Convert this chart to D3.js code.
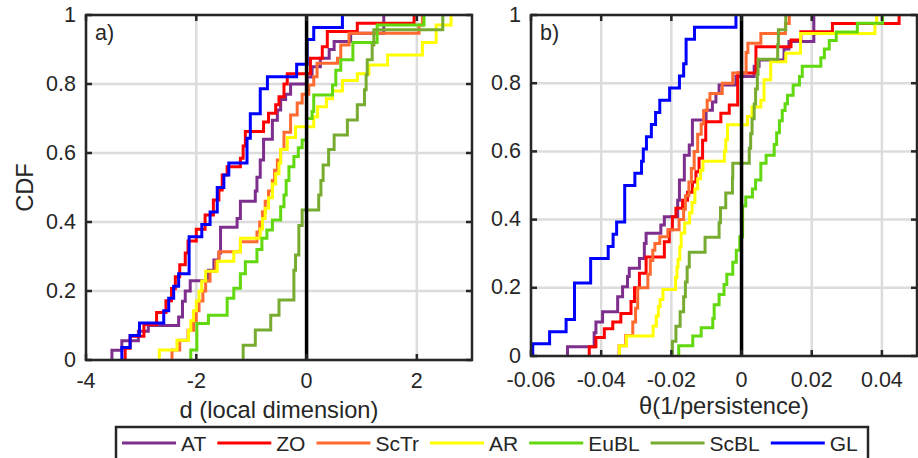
<!DOCTYPE html>
<html>
<head>
<meta charset="utf-8">
<script src="https://cdn.jsdelivr.net/npm/d3@7"></script>
<style>
body { margin: 0; background: #fff; }
text { font-family: "Liberation Sans", Arial, sans-serif; fill: #262626; }
</style>
</head>
<body>
<svg id="chart" width="918" height="458"></svg>
<script>
// series names and colours (legend order = draw order)
var seriesNames = ["AT", "ZO", "ScTr", "AR", "EuBL", "ScBL", "GL"];
var seriesColors = ["#7E2F8E", "#FF0000", "#FF6A30", "#FFFF00", "#62D80F", "#77AC30", "#0000FF"];

// panel a) : jumps of the empirical CDF of d, [value, CDF after the jump]
var dAT = [[-3.53,0.028],[-3.35,0.056],[-3.05,0.083],[-2.87,0.10],[-2.32,0.125],[-2.25,0.17],
    [-2.2,0.2],[-2.11,0.23],[-1.78,0.26],[-1.68,0.29],[-1.59,0.31],[-1.56,0.385],[-1.26,0.41],
    [-1.2,0.46],[-0.93,0.49],[-0.9,0.53],[-0.84,0.58],[-0.78,0.64],[-0.62,0.695],[-0.53,0.725],
    [-0.47,0.755],[-0.38,0.77],[-0.29,0.80],[0.01,0.82],[0.1,0.85],[0.25,0.875],[0.41,0.9],
    [0.5,0.923],[0.8,0.947],[1.4,1]];
var dZO = [[-3.29,0.034],[-3.2,0.069],[-2.95,0.103],[-2.72,0.138],[-2.55,0.172],[-2.45,0.207],
    [-2.38,0.241],[-2.3,0.276],[-2.2,0.31],[-2.15,0.345],[-2.0,0.379],[-1.84,0.42],[-1.69,0.464],
    [-1.59,0.493],[-1.53,0.536],[-1.44,0.56],[-1.2,0.585],[-1.15,0.62],[-1.11,0.662],[-0.78,0.69],
    [-0.69,0.715],[-0.56,0.74],[-0.5,0.763],[-0.41,0.8],[-0.35,0.83],[0.07,0.875],[0.285,0.908],
    [0.376,0.952],[0.92,0.976],[1.95,1]];
var dScTr = [[-2.44,0.029],[-2.3,0.057],[-2.15,0.086],[-2.05,0.114],[-2.0,0.143],[-1.95,0.171],
    [-1.88,0.2],[-1.83,0.229],[-1.75,0.257],[-1.65,0.286],[-1.59,0.314],[-1.2,0.343],[-0.9,0.371],
    [-0.85,0.4],[-0.8,0.43],[-0.75,0.46],[-0.69,0.49],[-0.62,0.52],[-0.58,0.55],[-0.53,0.58],
    [-0.47,0.61],[-0.41,0.66],[-0.29,0.71],[-0.17,0.745],[-0.08,0.77],[0.04,0.797],[0.13,0.821],
    [0.19,0.86],[0.56,0.875],[0.62,0.913],[0.77,0.947],[2.04,0.971],[2.1,1]];
var dAR = [[-2.67,0.029],[-2.35,0.057],[-2.14,0.086],[-2.1,0.114],[-2.05,0.143],[-2.0,0.171],
    [-1.95,0.2],[-1.9,0.229],[-1.83,0.257],[-1.62,0.286],[-1.32,0.314],[-1.2,0.353],[-0.84,0.38],
    [-0.8,0.41],[-0.75,0.44],[-0.69,0.47],[-0.62,0.51],[-0.56,0.54],[-0.5,0.57],[-0.47,0.61],
    [-0.35,0.645],[-0.2,0.676],[0.13,0.705],[0.2,0.734],[0.36,0.757],[0.47,0.78],[0.65,0.81],
    [0.92,0.83],[1.13,0.855],[1.47,0.884],[2.1,0.92],[2.35,0.971],[2.62,1]];
var dEuBL = [[-2.1,0.029],[-1.99,0.106],[-1.78,0.13],[-1.44,0.179],[-1.32,0.208],[-1.2,0.25],
    [-1.11,0.285],[-0.9,0.32],[-0.81,0.353],[-0.72,0.377],[-0.62,0.406],[-0.47,0.444],[-0.41,0.478],
    [-0.37,0.52],[-0.32,0.56],[-0.23,0.59],[-0.15,0.615],[-0.08,0.638],[0.0,0.70],[0.1,0.72],
    [0.13,0.768],[0.47,0.797],[0.53,0.84],[0.62,0.87],[0.84,0.92],[1.28,0.971],[2.13,1]];
var dScBL = [[-1.15,0.043],[-0.93,0.087],[-0.65,0.13],[-0.5,0.174],[-0.23,0.26],[-0.2,0.304],
    [-0.14,0.39],[-0.08,0.435],[0.22,0.478],[0.26,0.52],[0.3,0.565],[0.4,0.61],[0.5,0.652],
    [0.74,0.696],[0.92,0.74],[1.05,0.783],[1.08,0.826],[1.1,0.87],[1.19,0.913],[1.22,0.957],[2.47,1]];
var dGL = [[-3.35,0.036],[-3.2,0.071],[-3.03,0.107],[-2.59,0.143],[-2.5,0.179],[-2.41,0.214],
    [-2.32,0.25],[-2.13,0.357],[-1.9,0.393],[-1.75,0.429],[-1.62,0.5],[-1.5,0.536],[-1.41,0.571],
    [-1.08,0.643],[-1.02,0.714],[-0.84,0.786],[-0.71,0.821],[-0.18,0.857],[0.01,0.929],
    [0.13,0.964],[0.65,1]];

// panel b) : jumps of the empirical CDF of theta
var tAT = [[-0.0496,0.027],[-0.042,0.068],[-0.0415,0.1],[-0.0396,0.13],[-0.0353,0.174],
    [-0.0339,0.203],[-0.0325,0.233],[-0.032,0.257],[-0.0291,0.286],[-0.0277,0.33],[-0.0272,0.36],
    [-0.023,0.384],[-0.022,0.408],[-0.0182,0.457],[-0.0177,0.516],[-0.0163,0.589],[-0.0149,0.619],
    [-0.014,0.692],[-0.0101,0.721],[-0.0083,0.745],[-0.0073,0.77],[-0.0064,0.795],[-0.0016,0.82],
    [0.0036,0.85],[0.005,0.868],[0.0121,0.9],[0.0135,0.922],[0.0206,1]];
var tZO = [[-0.0434,0.027],[-0.0415,0.054],[-0.0391,0.08],[-0.0367,0.1],[-0.0344,0.125],
    [-0.0315,0.16],[-0.0305,0.2],[-0.0291,0.243],[-0.0272,0.29],[-0.022,0.335],[-0.0206,0.37],
    [-0.0197,0.408],[-0.0187,0.433],[-0.0168,0.457],[-0.0154,0.48],[-0.014,0.51],[-0.013,0.54],
    [-0.0121,0.58],[-0.0111,0.633],[-0.0102,0.687],[-0.0059,0.712],[-0.0035,0.736],[-0.0011,0.83],
    [0.0041,0.907],[0.0141,0.927],[0.0169,0.951],[0.0259,0.975],[0.0449,1]];
var tScTr = [[-0.0349,0.03],[-0.033,0.06],[-0.031,0.1],[-0.0302,0.14],[-0.0296,0.2],
    [-0.0267,0.24],[-0.026,0.28],[-0.0253,0.31],[-0.0247,0.33],[-0.0233,0.35],[-0.021,0.37],
    [-0.0178,0.4],[-0.0165,0.43],[-0.016,0.47],[-0.015,0.51],[-0.0143,0.55],[-0.0135,0.6],
    [-0.0125,0.65],[-0.0115,0.68],[-0.0108,0.72],[-0.0098,0.75],[-0.009,0.77],[-0.0055,0.8],
    [-0.0025,0.83],[0.0013,0.89],[0.0018,0.917],[0.0055,0.946],[0.0125,0.975],[0.0136,1]];
var tAR = [[-0.0348,0.03],[-0.0328,0.059],[-0.0252,0.088],[-0.0243,0.117],[-0.0237,0.145],
    [-0.0232,0.166],[-0.0224,0.195],[-0.0188,0.23],[-0.0184,0.26],[-0.0181,0.283],[-0.0176,0.32],
    [-0.0172,0.361],[-0.0162,0.39],[-0.0148,0.42],[-0.0141,0.45],[-0.0133,0.49],[-0.0125,0.52],
    [-0.0117,0.545],[-0.011,0.571],[-0.0049,0.6],[-0.0045,0.634],[-0.004,0.678],[0.0017,0.702],
    [0.003,0.73],[0.0055,0.75],[0.0064,0.81],[0.0083,0.863],[0.0126,0.888],[0.0168,0.946],
    [0.038,0.976],[0.0385,1]];
var tEuBL = [[-0.0179,0.03],[-0.0139,0.059],[-0.0115,0.083],[-0.0082,0.11],[-0.0078,0.15],
    [-0.0064,0.18],[-0.005,0.21],[-0.0042,0.24],[-0.0025,0.275],[-0.0015,0.31],[-0.0005,0.35],
    [0.0003,0.44],[0.0012,0.466],[0.0031,0.49],[0.004,0.516],[0.0055,0.565],[0.007,0.589],
    [0.0093,0.62],[0.01,0.655],[0.0108,0.69],[0.0116,0.72],[0.0124,0.74],[0.0131,0.765],
    [0.0147,0.795],[0.0165,0.82],[0.0173,0.85],[0.0226,0.875],[0.0236,0.9],[0.025,0.925],
    [0.027,0.95],[0.033,0.976],[0.0402,1]];
var tScBL = [[-0.0197,0.043],[-0.0187,0.087],[-0.0175,0.13],[-0.0165,0.174],[-0.016,0.217],
    [-0.0155,0.261],[-0.0149,0.304],[-0.0104,0.348],[-0.0064,0.391],[-0.006,0.435],[-0.0045,0.478],
    [-0.0026,0.522],[-0.0025,0.565],[0.0022,0.609],[0.0026,0.652],[0.003,0.696],[0.0036,0.739],
    [0.004,0.783],[0.0045,0.826],[0.0047,0.87],[0.0103,0.913],[0.0105,0.957],[0.0126,1]];
var tGL = [[-0.0595,0.036],[-0.0547,0.071],[-0.05,0.107],[-0.0476,0.214],[-0.043,0.286],
    [-0.038,0.321],[-0.0366,0.357],[-0.0356,0.393],[-0.0333,0.5],[-0.0304,0.536],[-0.0285,0.571],
    [-0.028,0.607],[-0.0271,0.643],[-0.0257,0.679],[-0.0245,0.714],[-0.0233,0.75],[-0.0205,0.786],
    [-0.0177,0.821],[-0.0165,0.857],[-0.0158,0.929],[-0.0134,0.964],[-0.0016,1]];

// tick values
var yTicks = [0, 0.2, 0.4, 0.6, 0.8, 1];
var dTicks = [-4, -2, 0, 2];
var tTicks = [-0.06, -0.04, -0.02, 0, 0.02, 0.04];

var panels = [
    {tag: "a)", left: 86, right: 472, top: 15, bottom: 360, domain: [-4, 3], ticks: dTicks,
     tickY: 388, label: "d (local dimension)", labelY: 418,
     series: [dAT, dZO, dScTr, dAR, dEuBL, dScBL, dGL]},
    {tag: "b)", left: 531, right: 917, top: 15, bottom: 356, domain: [-0.06, 0.05], ticks: tTicks,
     tickY: 386.5, label: "\u03b8(1/persistence)", labelY: 413.5,
     series: [tAT, tZO, tScTr, tAR, tEuBL, tScBL, tGL]}
];

var axisColor = "#262626";
var svg = d3.select("#chart");
svg.append("rect").attr("width", 918).attr("height", 458).attr("fill", "#fff");

panels.forEach(function(p, pi) {
    var x = d3.scaleLinear().domain(p.domain).range([p.left, p.right]);
    var y = d3.scaleLinear().domain([0, 1]).range([p.bottom, p.top]);
    var g = svg.append("g");

    g.append("clipPath").attr("id", "clip" + pi)
        .append("rect")
        .attr("x", p.left).attr("y", p.top - 2)
        .attr("width", p.right - p.left).attr("height", p.bottom - p.top + 4);

    // grid
    g.selectAll(".gx").data(p.ticks).enter().append("line")
        .attr("x1", function(d) { return x(d); }).attr("x2", function(d) { return x(d); })
        .attr("y1", p.top).attr("y2", p.bottom)
        .attr("stroke", "#dcdcdc").attr("stroke-width", 2.5);
    g.selectAll(".gy").data(yTicks).enter().append("line")
        .attr("x1", p.left).attr("x2", p.right)
        .attr("y1", function(d) { return y(d); }).attr("y2", function(d) { return y(d); })
        .attr("stroke", "#dcdcdc").attr("stroke-width", 2.5);

    // cdf stairs
    var line = d3.line()
        .x(function(d) { return x(d[0]); })
        .y(function(d) { return y(d[1]); })
        .curve(d3.curveStepAfter);
    var plot = g.append("g").attr("clip-path", "url(#clip" + pi + ")");
    p.series.forEach(function(s, i) {
        var pts = [[s[0][0], 0]].concat(s);
        plot.append("path")
            .attr("d", line(pts))
            .attr("fill", "none")
            .attr("stroke", seriesColors[i])
            .attr("stroke-width", 3);
    });

    // zero line
    g.append("line")
        .attr("x1", x(0)).attr("x2", x(0))
        .attr("y1", y(0)).attr("y2", y(1))
        .attr("stroke", "#000").attr("stroke-width", 3.5);

    // box
    g.append("rect")
        .attr("x", p.left).attr("y", p.top)
        .attr("width", p.right - p.left).attr("height", p.bottom - p.top)
        .attr("fill", "none").attr("stroke", axisColor).attr("stroke-width", 2.5);

    // inward ticks
    p.ticks.forEach(function(t) {
        [[p.bottom, p.bottom - 6], [p.top, p.top + 6]].forEach(function(e) {
            g.append("line").attr("x1", x(t)).attr("x2", x(t))
                .attr("y1", e[0]).attr("y2", e[1])
                .attr("stroke", axisColor).attr("stroke-width", 2.5);
        });
    });
    yTicks.forEach(function(t) {
        [[p.left, p.left + 6], [p.right, p.right - 6]].forEach(function(e) {
            g.append("line").attr("x1", e[0]).attr("x2", e[1])
                .attr("y1", y(t)).attr("y2", y(t))
                .attr("stroke", axisColor).attr("stroke-width", 2.5);
        });
    });

    // tick labels
    g.selectAll(".xl").data(p.ticks).enter().append("text")
        .attr("x", function(d) { return x(d); })
        .attr("y", p.tickY)
        .attr("text-anchor", "middle")
        .style("font-size", "21.5px")
        .text(function(d) { return String(d); });
    g.selectAll(".yl").data(yTicks).enter().append("text")
        .attr("x", p.left - 10)
        .attr("y", function(d) { return y(d) + 6.5; })
        .attr("text-anchor", "end")
        .style("font-size", "21.5px")
        .text(function(d) { return String(d); });

    // axis label
    g.append("text")
        .attr("x", (p.left + p.right) / 2).attr("y", p.labelY)
        .attr("text-anchor", "middle")
        .style("font-size", "23.7px")
        .text(p.label);

    // panel tag
    g.append("text")
        .attr("x", p.left + 9).attr("y", p.top + 25)
        .style("font-size", "21.5px")
        .text(p.tag);
});

// y label
svg.append("text")
    .attr("transform", "translate(33," + ((15 + 360) / 2) + ") rotate(-90)")
    .attr("text-anchor", "middle")
    .style("font-size", "23.7px")
    .text("CDF");

// legend
var legend = svg.append("g");
legend.append("rect")
    .attr("x", 116).attr("y", 427).attr("width", 752).attr("height", 40)
    .attr("fill", "#fff").attr("stroke", axisColor).attr("stroke-width", 2.5);
var lx = 122;
seriesNames.forEach(function(name, i) {
    legend.append("line")
        .attr("x1", lx).attr("x2", lx + 54)
        .attr("y1", 443).attr("y2", 443)
        .attr("stroke", seriesColors[i]).attr("stroke-width", 3);
    var t = legend.append("text")
        .attr("x", lx + 59).attr("y", 451)
        .style("font-size", "21px")
        .text(name);
    lx += 59 + t.node().getComputedTextLength() + 11;
});
</script>
</body>
</html>
